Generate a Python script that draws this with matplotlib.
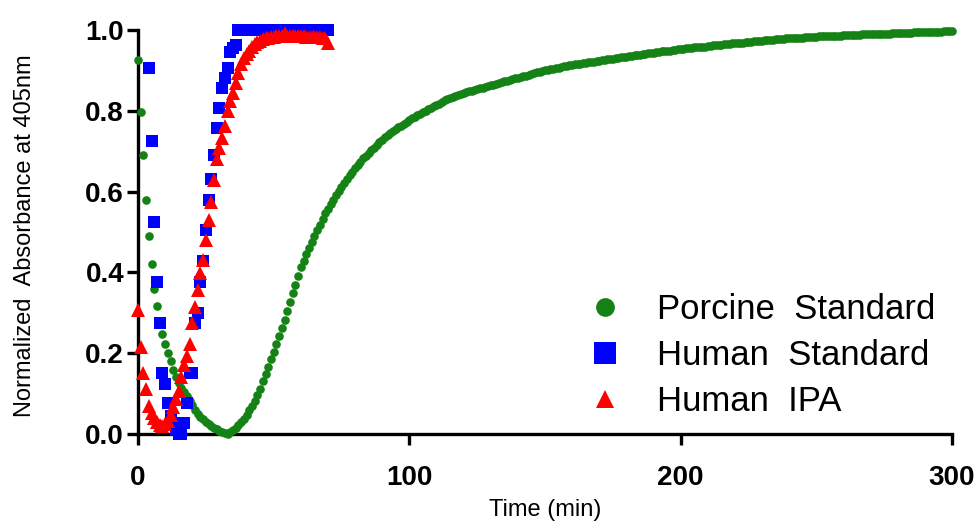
import numpy as np
import matplotlib.pyplot as plt
from matplotlib.lines import Line2D

plt.rcParams['font.family'] = ['Liberation Sans', 'DejaVu Sans']

# Porcine standard, one reading per minute from 0 to 300 min
porcine_t = np.arange(0, 301)
porcine_abs = [
    0.926, 0.798, 0.690, 0.580, 0.490, 0.420, 0.358, 0.317, 0.280, 0.248,
    0.222, 0.200, 0.180, 0.158, 0.140, 0.127, 0.114, 0.103, 0.093, 0.082,
    0.072, 0.059, 0.050, 0.043, 0.036, 0.030, 0.025, 0.020, 0.016, 0.012,
    0.008, 0.005, 0.002, 0.000, 0.004, 0.009, 0.015, 0.022, 0.030, 0.038,
    0.048, 0.059, 0.070, 0.082, 0.096, 0.112, 0.130, 0.148, 0.166, 0.185,
    0.204, 0.222, 0.242, 0.262, 0.283, 0.305, 0.326, 0.348, 0.370, 0.392,
    0.413, 0.428, 0.445, 0.460, 0.475, 0.490, 0.505, 0.518, 0.532, 0.546,
    0.558, 0.570, 0.580, 0.591, 0.601, 0.611, 0.621, 0.630, 0.640, 0.649,
    0.658, 0.666, 0.674, 0.682, 0.689, 0.696, 0.703, 0.709, 0.716, 0.722,
    0.728, 0.734, 0.739, 0.744, 0.749, 0.754, 0.759, 0.763, 0.768, 0.772,
    0.776, 0.781, 0.785, 0.789, 0.793, 0.797, 0.800, 0.804, 0.808, 0.811,
    0.815, 0.818, 0.822, 0.826, 0.830, 0.832, 0.834, 0.836, 0.839, 0.841,
    0.843, 0.846, 0.848, 0.850, 0.852, 0.854, 0.856, 0.857, 0.859, 0.861,
    0.863, 0.865, 0.867, 0.869, 0.871, 0.873, 0.875, 0.877, 0.879, 0.880,
    0.882, 0.884, 0.886, 0.887, 0.889, 0.891, 0.893, 0.895, 0.897, 0.899,
    0.900, 0.901, 0.903, 0.904, 0.906, 0.907, 0.909, 0.910, 0.911, 0.913,
    0.914, 0.915, 0.916, 0.917, 0.918, 0.919, 0.920, 0.921, 0.922, 0.923,
    0.924, 0.925, 0.926, 0.927, 0.928, 0.929, 0.930, 0.931, 0.932, 0.933,
    0.934, 0.935, 0.936, 0.937, 0.938, 0.939, 0.940, 0.941, 0.942, 0.943,
    0.944, 0.945, 0.946, 0.947, 0.948, 0.948, 0.949, 0.950, 0.951, 0.952,
    0.953, 0.954, 0.955, 0.955, 0.956, 0.957, 0.957, 0.958, 0.959, 0.959,
    0.960, 0.961, 0.962, 0.962, 0.963, 0.964, 0.965, 0.965, 0.966, 0.967,
    0.967, 0.968, 0.969, 0.969, 0.970, 0.971, 0.971, 0.972, 0.973, 0.973,
    0.974, 0.975, 0.975, 0.976, 0.976, 0.977, 0.977, 0.978, 0.978, 0.979,
    0.979, 0.980, 0.980, 0.981, 0.981, 0.981, 0.982, 0.982, 0.983, 0.983,
    0.983, 0.984, 0.984, 0.984, 0.985, 0.985, 0.985, 0.986, 0.986, 0.986,
    0.987, 0.987, 0.987, 0.988, 0.988, 0.988, 0.988, 0.989, 0.989, 0.989,
    0.990, 0.990, 0.990, 0.990, 0.991, 0.991, 0.991, 0.991, 0.992, 0.992,
    0.992, 0.992, 0.993, 0.993, 0.993, 0.993, 0.994, 0.994, 0.994, 0.994,
    0.995, 0.995, 0.995, 0.995, 0.996, 0.996, 0.996, 0.997, 0.997, 0.998,
    0.998,
]

# Human standard, 4 to 70 min
human_std_t = np.arange(4, 71)
human_std_abs = [
    0.905, 0.725, 0.525, 0.377, 0.274, 0.150, 0.125, 0.076, 0.045, 0.026,
    0.010, 0.000, 0.000, 0.026, 0.076, 0.150, 0.150, 0.274, 0.300, 0.377,
    0.427, 0.505, 0.580, 0.630, 0.690, 0.757, 0.806, 0.856, 0.880, 0.905,
    0.946, 0.955, 0.962, 1.000, 1.000, 1.000, 1.000, 1.000, 1.000, 1.000,
    1.000, 1.000, 1.000, 1.000, 1.000, 1.000, 1.000, 1.000, 1.000, 1.000,
    1.000, 1.000, 1.000, 1.000, 1.000, 1.000, 1.000, 1.000, 1.000, 1.000,
    1.000, 1.000, 1.000, 1.000, 1.000, 1.000, 1.000,
]

# Human IPA, 0 to 70 min
human_ipa_t = np.arange(0, 71)
human_ipa_abs = [
    0.307, 0.216, 0.152, 0.112, 0.070, 0.052, 0.040, 0.030, 0.023, 0.021,
    0.024, 0.033, 0.047, 0.067, 0.087, 0.107, 0.140, 0.170, 0.193, 0.222,
    0.274, 0.315, 0.356, 0.398, 0.431, 0.480, 0.530, 0.575, 0.629, 0.680,
    0.707, 0.732, 0.762, 0.800, 0.825, 0.845, 0.868, 0.893, 0.915, 0.930,
    0.940, 0.948, 0.958, 0.965, 0.970, 0.974, 0.977, 0.979, 0.981, 0.982,
    0.983, 0.984, 0.985, 0.986, 0.993, 0.986, 0.985, 0.985, 0.985, 0.984,
    0.984, 0.984, 0.983, 0.983, 0.983, 0.982, 0.982, 0.982, 0.981, 0.980,
    0.967,
]

labels = ['Porcine  Standard', 'Human  Standard', 'Human  IPA']
x_ticks = [0, 100, 200, 300]
y_ticks = [0.0, 0.2, 0.4, 0.6, 0.8, 1.0]

fig = plt.figure(figsize=(9.79, 5.22), dpi=100)
ax = fig.add_axes([138/979, 88/522, 814/979, 404/522])

ax.plot(porcine_t, porcine_abs, 'o', color='#148214', ms=6.2, mew=0, clip_on=False, zorder=3)
ax.plot(human_std_t, human_std_abs, 's', color='#0000ff', ms=9, mew=0, clip_on=False, zorder=4)
ax.plot(human_ipa_t, human_ipa_abs, '^', color='#ff0000', ms=9.5, mew=0, clip_on=False, zorder=5)

ax.set_xlim(0, 300)
ax.set_ylim(0, 1.0)
ax.set_xticks(x_ticks)
ax.set_yticks(y_ticks)
ax.set_yticklabels(['%.1f' % v for v in y_ticks])
for side in ['top', 'right']:
    ax.spines[side].set_visible(False)
for side in ['left', 'bottom']:
    ax.spines[side].set_linewidth(2.4)
ax.tick_params(axis='both', direction='out', length=8, width=2.4, labelsize=20)
ax.tick_params(axis='x', pad=14)
ax.tick_params(axis='y', pad=2)
for lab in ax.get_xticklabels() + ax.get_yticklabels():
    lab.set_fontweight('bold')

ax.set_xlabel('Time (min)', fontsize=17)
ax.set_ylabel('Normalized  Absorbance at 405nm', fontsize=17)
ax.xaxis.set_label_coords(0.5, -0.16)
ax.yaxis.set_label_coords(-0.125, 0.49)

handles = [
    Line2D([], [], ls='none', marker='o', color='#148214', ms=13.5, mew=0),
    Line2D([], [], ls='none', marker='s', color='#0000ff', ms=16, mew=0),
    Line2D([], [], ls='none', marker='^', color='#ff0000', ms=13, mew=0),
]
ax.legend(handles, labels, loc='upper left', bbox_to_anchor=(588/979, 1 - 293/522),
          bbox_transform=fig.transFigure, frameon=False, fontsize=25,
          handlelength=1.0, handletextpad=1.0, labelspacing=0.38, borderpad=0,
          borderaxespad=0)

fig.savefig('out.png', dpi=100)
